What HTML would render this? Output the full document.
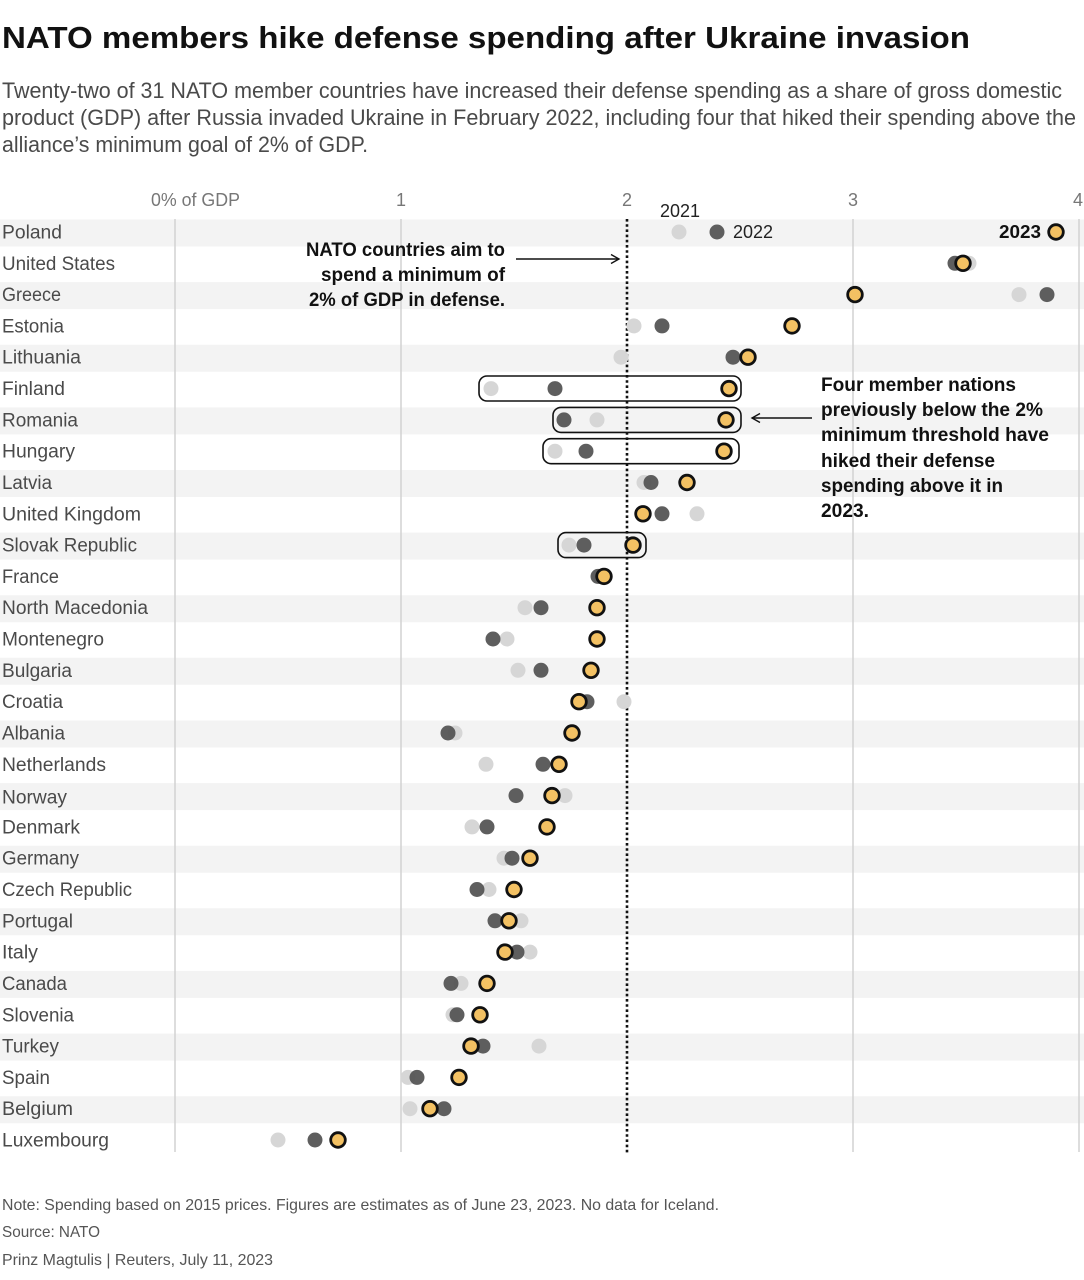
<!DOCTYPE html>
<html>
<head>
<meta charset="utf-8">
<style>
  html, body { margin:0; padding:0; background:#fff; }
  svg { display:block; }
  text { font-family: "Liberation Sans", sans-serif; }
</style>
</head>
<body>
<svg width="1084" height="1280" viewBox="0 0 1084 1280" xmlns="http://www.w3.org/2000/svg">
  <!-- Title -->
  <text x="2" y="48" font-size="31" font-weight="bold" fill="#111" textLength="968" lengthAdjust="spacingAndGlyphs">NATO members hike defense spending after Ukraine invasion</text>
  <!-- Subtitle -->
  <g font-size="22" fill="#4a4a4a">
    <text x="2" y="98" textLength="1060" lengthAdjust="spacingAndGlyphs">Twenty-two of 31 NATO member countries have increased their defense spending as a share of gross domestic</text>
    <text x="2" y="125" textLength="1074" lengthAdjust="spacingAndGlyphs">product (GDP) after Russia invaded Ukraine in February 2022, including four that hiked their spending above the</text>
    <text x="2" y="152" textLength="366" lengthAdjust="spacingAndGlyphs">alliance’s minimum goal of 2% of GDP.</text>
  </g>

  <!-- Tick labels -->
  <g font-size="18" fill="#777">
    <text x="151" y="206" textLength="89" lengthAdjust="spacingAndGlyphs">0% of GDP</text>
    <text x="401" y="206" text-anchor="middle">1</text>
    <text x="627" y="206" text-anchor="middle">2</text>
    <text x="853" y="206" text-anchor="middle">3</text>
    <text x="1078" y="206" text-anchor="middle">4</text>
  </g>

  <!-- Stripes -->
  <g fill="#f3f3f3">
    <rect x="0" y="219.5" width="1084" height="27"/>
    <rect x="0" y="282.1" width="1084" height="27"/>
    <rect x="0" y="344.7" width="1084" height="27"/>
    <rect x="0" y="407.4" width="1084" height="27"/>
    <rect x="0" y="470.0" width="1084" height="27"/>
    <rect x="0" y="532.6" width="1084" height="27"/>
    <rect x="0" y="595.2" width="1084" height="27"/>
    <rect x="0" y="657.8" width="1084" height="27"/>
    <rect x="0" y="720.5" width="1084" height="27"/>
    <rect x="0" y="783.1" width="1084" height="27"/>
    <rect x="0" y="845.7" width="1084" height="27"/>
    <rect x="0" y="908.3" width="1084" height="27"/>
    <rect x="0" y="970.9" width="1084" height="27"/>
    <rect x="0" y="1033.6" width="1084" height="27"/>
    <rect x="0" y="1096.2" width="1084" height="27"/>
  </g>

  <!-- Gridlines -->
  <g stroke="#d2d2d2" stroke-width="1.5">
    <line x1="175" y1="219" x2="175" y2="1152"/>
    <line x1="401" y1="219" x2="401" y2="1152"/>
    <line x1="853" y1="219" x2="853" y2="1152"/>
    <line x1="1079" y1="219" x2="1079" y2="1152"/>
  </g>
  <line x1="627" y1="219" x2="627" y2="1154" stroke="#111" stroke-width="2.6" stroke-dasharray="2.6 2.6"/>

  <!-- Row labels -->
  <g font-size="19" fill="#4a4a4a">
    <text x="2" y="238.5" textLength="60" lengthAdjust="spacingAndGlyphs">Poland</text>
    <text x="2" y="269.8" textLength="113" lengthAdjust="spacingAndGlyphs">United States</text>
    <text x="2" y="301.1" textLength="59" lengthAdjust="spacingAndGlyphs">Greece</text>
    <text x="2" y="332.4" textLength="62" lengthAdjust="spacingAndGlyphs">Estonia</text>
    <text x="2" y="363.7" textLength="79" lengthAdjust="spacingAndGlyphs">Lithuania</text>
    <text x="2" y="395.1" textLength="63" lengthAdjust="spacingAndGlyphs">Finland</text>
    <text x="2" y="426.4" textLength="76" lengthAdjust="spacingAndGlyphs">Romania</text>
    <text x="2" y="457.7" textLength="73" lengthAdjust="spacingAndGlyphs">Hungary</text>
    <text x="2" y="489.0" textLength="50" lengthAdjust="spacingAndGlyphs">Latvia</text>
    <text x="2" y="520.3" textLength="139" lengthAdjust="spacingAndGlyphs">United Kingdom</text>
    <text x="2" y="551.6" textLength="135" lengthAdjust="spacingAndGlyphs">Slovak Republic</text>
    <text x="2" y="582.9" textLength="57" lengthAdjust="spacingAndGlyphs">France</text>
    <text x="2" y="614.2" textLength="146" lengthAdjust="spacingAndGlyphs">North Macedonia</text>
    <text x="2" y="645.5" textLength="102" lengthAdjust="spacingAndGlyphs">Montenegro</text>
    <text x="2" y="676.8" textLength="70" lengthAdjust="spacingAndGlyphs">Bulgaria</text>
    <text x="2" y="708.2" textLength="61" lengthAdjust="spacingAndGlyphs">Croatia</text>
    <text x="2" y="739.5" textLength="63" lengthAdjust="spacingAndGlyphs">Albania</text>
    <text x="2" y="770.8" textLength="104" lengthAdjust="spacingAndGlyphs">Netherlands</text>
    <text x="2" y="803.5" textLength="65" lengthAdjust="spacingAndGlyphs">Norway</text>
    <text x="2" y="833.4" textLength="78" lengthAdjust="spacingAndGlyphs">Denmark</text>
    <text x="2" y="864.7" textLength="77" lengthAdjust="spacingAndGlyphs">Germany</text>
    <text x="2" y="896.0" textLength="130" lengthAdjust="spacingAndGlyphs">Czech Republic</text>
    <text x="2" y="927.3" textLength="71" lengthAdjust="spacingAndGlyphs">Portugal</text>
    <text x="2" y="958.6" textLength="36" lengthAdjust="spacingAndGlyphs">Italy</text>
    <text x="2" y="989.9" textLength="65" lengthAdjust="spacingAndGlyphs">Canada</text>
    <text x="2" y="1021.3" textLength="72" lengthAdjust="spacingAndGlyphs">Slovenia</text>
    <text x="2" y="1052.6" textLength="57" lengthAdjust="spacingAndGlyphs">Turkey</text>
    <text x="2" y="1083.9" textLength="48" lengthAdjust="spacingAndGlyphs">Spain</text>
    <text x="2" y="1115.2" textLength="71" lengthAdjust="spacingAndGlyphs">Belgium</text>
    <text x="2" y="1146.5" textLength="107" lengthAdjust="spacingAndGlyphs">Luxembourg</text>
  </g>

  <!-- Highlight boxes -->
  <g fill="none" stroke="#111" stroke-width="1.6">
    <rect x="479" y="376" width="262" height="25" rx="8"/>
    <rect x="553" y="407.4" width="188" height="25" rx="8"/>
    <rect x="543" y="438.7" width="196" height="25" rx="8"/>
    <rect x="558" y="532.6" width="88" height="25" rx="8"/>
  </g>

  <!-- Dots: 2021 light -->
  <g fill="#d6d6d6">
    <circle cx="679" cy="232" r="7.5"/>
    <circle cx="969" cy="263.3" r="7.5"/>
    <circle cx="1019" cy="294.6" r="7.5"/>
    <circle cx="634" cy="325.9" r="7.5"/>
    <circle cx="621" cy="357.2" r="7.5"/>
    <circle cx="491" cy="388.6" r="7.5"/>
    <circle cx="597" cy="419.9" r="7.5"/>
    <circle cx="555" cy="451.2" r="7.5"/>
    <circle cx="644" cy="482.5" r="7.5"/>
    <circle cx="697" cy="513.8" r="7.5"/>
    <circle cx="569" cy="545.1" r="7.5"/>
    <circle cx="599" cy="576.4" r="7.5"/>
    <circle cx="525" cy="607.7" r="7.5"/>
    <circle cx="507" cy="639.0" r="7.5"/>
    <circle cx="518" cy="670.3" r="7.5"/>
    <circle cx="624" cy="701.7" r="7.5"/>
    <circle cx="455" cy="733.0" r="7.5"/>
    <circle cx="486" cy="764.3" r="7.5"/>
    <circle cx="565" cy="795.6" r="7.5"/>
    <circle cx="472" cy="826.9" r="7.5"/>
    <circle cx="504" cy="858.2" r="7.5"/>
    <circle cx="489" cy="889.5" r="7.5"/>
    <circle cx="521" cy="920.8" r="7.5"/>
    <circle cx="530" cy="952.1" r="7.5"/>
    <circle cx="461" cy="983.4" r="7.5"/>
    <circle cx="453" cy="1014.8" r="7.5"/>
    <circle cx="539" cy="1046.1" r="7.5"/>
    <circle cx="408" cy="1077.4" r="7.5"/>
    <circle cx="410" cy="1108.7" r="7.5"/>
    <circle cx="278" cy="1140" r="7.5"/>
  </g>
  <!-- Dots: 2022 dark -->
  <g fill="#555" fill-opacity="0.95">
    <circle cx="717" cy="232" r="7.5"/>
    <circle cx="955" cy="263.3" r="7.5"/>
    <circle cx="1047" cy="294.6" r="7.5"/>
    <circle cx="662" cy="325.9" r="7.5"/>
    <circle cx="733" cy="357.2" r="7.5"/>
    <circle cx="555" cy="388.6" r="7.5"/>
    <circle cx="564" cy="419.9" r="7.5"/>
    <circle cx="586" cy="451.2" r="7.5"/>
    <circle cx="651" cy="482.5" r="7.5"/>
    <circle cx="662" cy="513.8" r="7.5"/>
    <circle cx="584" cy="545.1" r="7.5"/>
    <circle cx="598" cy="576.4" r="7.5"/>
    <circle cx="541" cy="607.7" r="7.5"/>
    <circle cx="493" cy="639.0" r="7.5"/>
    <circle cx="541" cy="670.3" r="7.5"/>
    <circle cx="587" cy="701.7" r="7.5"/>
    <circle cx="448" cy="733.0" r="7.5"/>
    <circle cx="543" cy="764.3" r="7.5"/>
    <circle cx="516" cy="795.6" r="7.5"/>
    <circle cx="487" cy="826.9" r="7.5"/>
    <circle cx="512" cy="858.2" r="7.5"/>
    <circle cx="477" cy="889.5" r="7.5"/>
    <circle cx="495" cy="920.8" r="7.5"/>
    <circle cx="517" cy="952.1" r="7.5"/>
    <circle cx="451" cy="983.4" r="7.5"/>
    <circle cx="457" cy="1014.8" r="7.5"/>
    <circle cx="483" cy="1046.1" r="7.5"/>
    <circle cx="417" cy="1077.4" r="7.5"/>
    <circle cx="444" cy="1108.7" r="7.5"/>
    <circle cx="315" cy="1140" r="7.5"/>
  </g>
  <!-- Dots: 2023 yellow -->
  <g fill="#f3c163" stroke="#111" stroke-width="2.8">
    <circle cx="1056" cy="232" r="7.3"/>
    <circle cx="963" cy="263.3" r="7.3"/>
    <circle cx="855" cy="294.6" r="7.3"/>
    <circle cx="792" cy="325.9" r="7.3"/>
    <circle cx="748" cy="357.2" r="7.3"/>
    <circle cx="729" cy="388.6" r="7.3"/>
    <circle cx="726" cy="419.9" r="7.3"/>
    <circle cx="724" cy="451.2" r="7.3"/>
    <circle cx="687" cy="482.5" r="7.3"/>
    <circle cx="643" cy="513.8" r="7.3"/>
    <circle cx="633" cy="545.1" r="7.3"/>
    <circle cx="604" cy="576.4" r="7.3"/>
    <circle cx="597" cy="607.7" r="7.3"/>
    <circle cx="597" cy="639.0" r="7.3"/>
    <circle cx="591" cy="670.3" r="7.3"/>
    <circle cx="579" cy="701.7" r="7.3"/>
    <circle cx="572" cy="733.0" r="7.3"/>
    <circle cx="559" cy="764.3" r="7.3"/>
    <circle cx="552" cy="795.6" r="7.3"/>
    <circle cx="547" cy="826.9" r="7.3"/>
    <circle cx="530" cy="858.2" r="7.3"/>
    <circle cx="514" cy="889.5" r="7.3"/>
    <circle cx="509" cy="920.8" r="7.3"/>
    <circle cx="505" cy="952.1" r="7.3"/>
    <circle cx="487" cy="983.4" r="7.3"/>
    <circle cx="480" cy="1014.8" r="7.3"/>
    <circle cx="471" cy="1046.1" r="7.3"/>
    <circle cx="459" cy="1077.4" r="7.3"/>
    <circle cx="430" cy="1108.7" r="7.3"/>
    <circle cx="338" cy="1140" r="7.3"/>
  </g>

  <!-- Legend labels -->
  <text x="660" y="217" font-size="18" fill="#222" textLength="40" lengthAdjust="spacingAndGlyphs">2021</text>
  <text x="733" y="238" font-size="18" fill="#222" textLength="40" lengthAdjust="spacingAndGlyphs">2022</text>
  <text x="999" y="238" font-size="18" font-weight="bold" fill="#111" textLength="42" lengthAdjust="spacingAndGlyphs">2023</text>

  <!-- Left annotation -->
  <g font-size="19" font-weight="bold" fill="#111" text-anchor="end">
    <text x="505" y="256" textLength="199" lengthAdjust="spacingAndGlyphs">NATO countries aim to</text>
    <text x="505" y="281" textLength="184" lengthAdjust="spacingAndGlyphs">spend a minimum of</text>
    <text x="505" y="306" textLength="196" lengthAdjust="spacingAndGlyphs">2% of GDP in defense.</text>
  </g>
  <line x1="516" y1="259" x2="619" y2="259" stroke="#111" stroke-width="1.4"/>
  <polyline points="611,254.5 619,259 611,263.5" fill="none" stroke="#111" stroke-width="1.4"/>

  <!-- Right annotation -->
  <g font-size="19" font-weight="bold" fill="#111">
    <text x="821" y="391" textLength="195" lengthAdjust="spacingAndGlyphs">Four member nations</text>
    <text x="821" y="416" textLength="222" lengthAdjust="spacingAndGlyphs">previously below the 2%</text>
    <text x="821" y="441" textLength="228" lengthAdjust="spacingAndGlyphs">minimum threshold have</text>
    <text x="821" y="467" textLength="174" lengthAdjust="spacingAndGlyphs">hiked their defense</text>
    <text x="821" y="492" textLength="182" lengthAdjust="spacingAndGlyphs">spending above it in</text>
    <text x="821" y="517" textLength="48" lengthAdjust="spacingAndGlyphs">2023.</text>
  </g>
  <line x1="752" y1="418" x2="812" y2="418" stroke="#111" stroke-width="1.4"/>
  <polyline points="760,413.5 752,418 760,422.5" fill="none" stroke="#111" stroke-width="1.4"/>

  <!-- Footer -->
  <g font-size="16" fill="#555">
    <text x="2" y="1210" textLength="717" lengthAdjust="spacingAndGlyphs">Note: Spending based on 2015 prices. Figures are estimates as of June 23, 2023. No data for Iceland.</text>
    <text x="2" y="1237" textLength="98" lengthAdjust="spacingAndGlyphs">Source: NATO</text>
    <text x="2" y="1265" textLength="271" lengthAdjust="spacingAndGlyphs">Prinz Magtulis |  Reuters, July 11, 2023</text>
  </g>
</svg>
</body>
</html>
